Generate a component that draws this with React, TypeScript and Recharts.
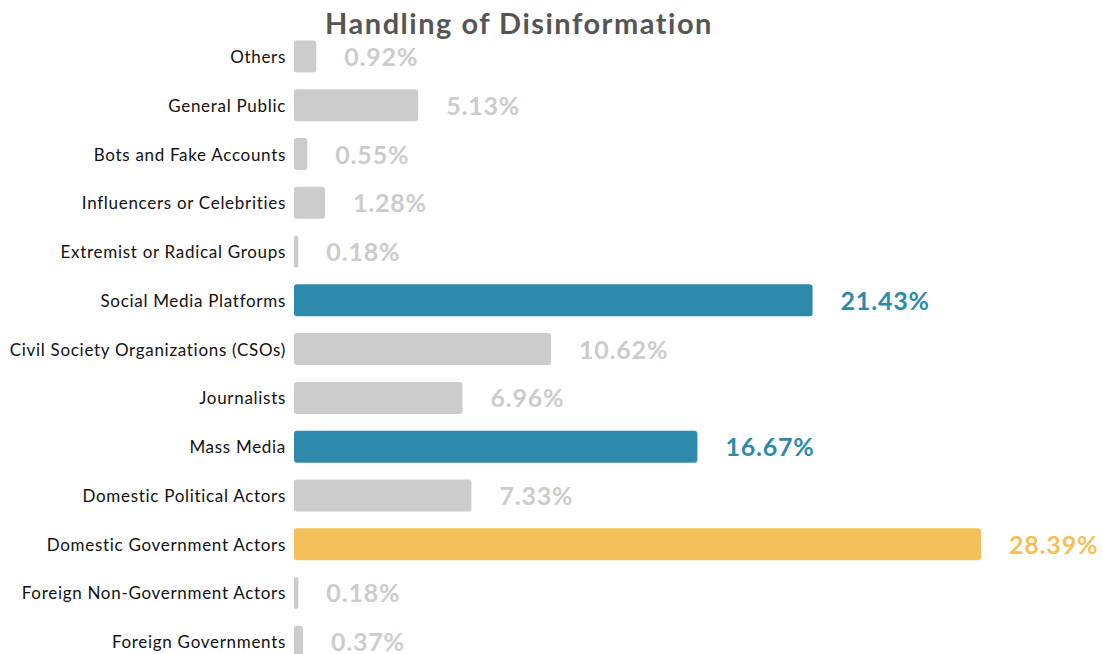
import React from "react";
import { BarChart, Bar, XAxis, YAxis, Cell, LabelList } from "recharts";

const categories = [
  "Others",
  "General Public",
  "Bots and Fake Accounts",
  "Influencers or Celebrities",
  "Extremist or Radical Groups",
  "Social Media Platforms",
  "Civil Society Organizations (CSOs)",
  "Journalists",
  "Mass Media",
  "Domestic Political Actors",
  "Domestic Government Actors",
  "Foreign Non-Government Actors",
  "Foreign Governments",
];

const shares = [0.92, 5.13, 0.55, 1.28, 0.18, 21.43, 10.62, 6.96, 16.67, 7.33, 28.39, 0.18, 0.37];

const highlightBlue = ["Social Media Platforms", "Mass Media"];
const highlightYellow = ["Domestic Government Actors"];

const colorFor = (name: string) => {
  if (highlightYellow.includes(name)) return "#f4c05a";
  if (highlightBlue.includes(name)) return "#2d8aab";
  return "#cccccc";
};

const data = categories.map((name, i) => ({ name, value: shares[i] }));

const renderLabel = (props: any) => {
  const { x, y, width, height, value, index } = props;
  const color = colorFor(categories[index]);
  return (
    <text
      x={x + width + 28}
      y={y + height / 2}
      dy="0.38em"
      fill={color}
      fontSize={25}
      fontWeight={700}
      fontFamily="Lato, sans-serif"
      letterSpacing={0.8}
    >
      {value.toFixed(2)}%
    </text>
  );
};

const App = () => {
  return (
    <div style={{ position: "absolute", left: 0, top: 0, width: 1103, height: 654, overflow: "hidden", background: "#fff" }}>
      <div
        style={{
          position: "absolute",
          left: 0,
          top: 5,
          width: 1038,
          textAlign: "center",
          fontFamily: "Lato, sans-serif",
          fontWeight: 700,
          fontSize: 29,
          letterSpacing: 1.5,
          color: "#555555",
        }}
      >
        Handling of Disinformation
      </div>
      <BarChart
        width={1103}
        height={680}
        data={data}
        layout="vertical"
        margin={{ top: 32.6, right: 122, bottom: 13.6, left: 0 }}
      >
        <XAxis type="number" hide domain={[0, "dataMax"]} />
        <YAxis
          type="category"
          dataKey="name"
          width={294}
          axisLine={false}
          tickLine={false}
          interval={0}
          tick={{ fill: "#111111", fontSize: 17, fontFamily: "Lato, sans-serif", letterSpacing: 0.7 }}
        />
        <Bar dataKey="value" barSize={32} radius={3} isAnimationActive={false}>
          {data.map((d) => (
            <Cell key={d.name} fill={colorFor(d.name)} />
          ))}
          <LabelList dataKey="value" content={renderLabel} />
        </Bar>
      </BarChart>
    </div>
  );
};

export default App;
